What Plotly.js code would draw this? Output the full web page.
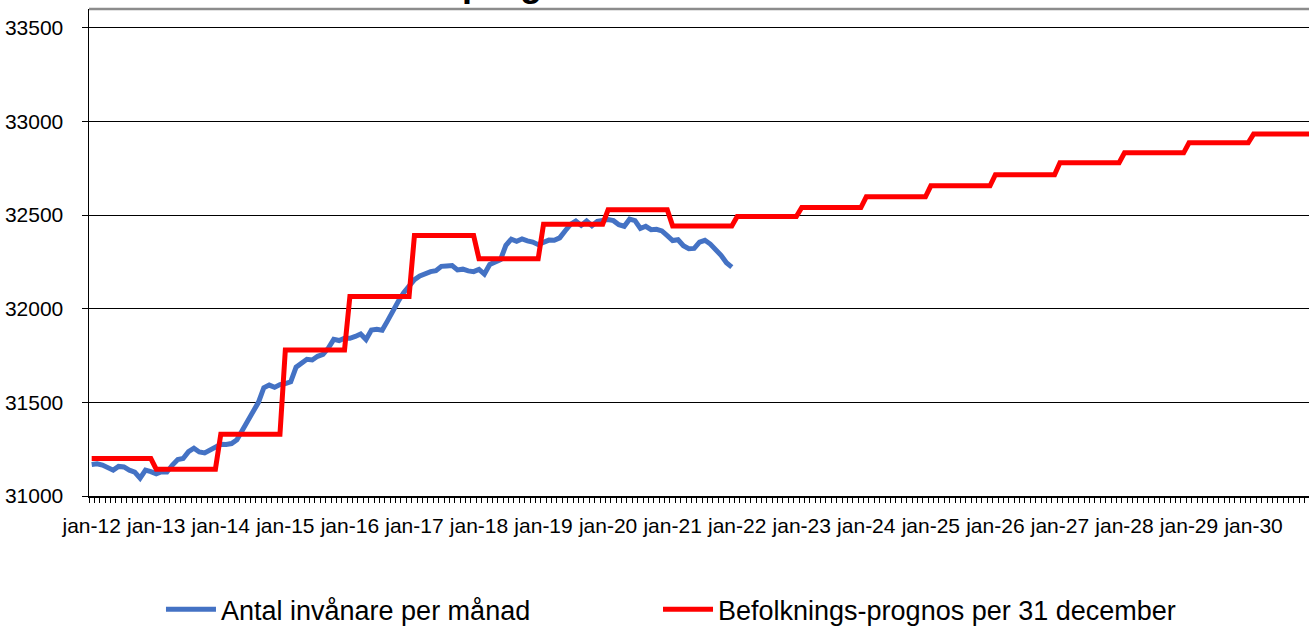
<!DOCTYPE html>
<html>
<head>
<meta charset="utf-8">
<script src="https://cdn.plot.ly/plotly-3.0.1.min.js"></script>
<style>
  html, body { margin: 0; padding: 0; background: #ffffff; }
  #chart { width: 1309px; height: 626px; }
</style>
</head>
<body>
<div id="chart"></div>
<script>
// ---- Data ----
const monthNames = ['jan','feb','mar','apr','maj','jun','jul','aug','sep','okt','nov','dec'];
const years = [2012,2013,2014,2015,2016,2017,2018,2019,2020,2021,2022,2023,2024,2025,2026,2027,2028,2029,2030];

// Befolknings-prognos per 31 december (one value per year)
const prognosValues = [31200,31143,31330,31780,32065,32391,32266,32451,32528,32442,
                       32492,32540,32597,32656,32715,32779,32832,32886,32932];

// Antal invånare per månad, jan-12 .. dec-21
const invanare = [
  31168,31172,31165,31150,31138,31158,31155,31138,31128,31095,31138,31130, // 2012
  31118,31130,31128,31165,31195,31200,31237,31255,31235,31230,31245,31265, // 2013
  31276,31275,31280,31300,31350,31395,31445,31500,31578,31592,31580,31595, // 2014
  31600,31610,31688,31712,31730,31726,31746,31756,31790,31836,31830,31842, // 2015
  31842,31852,31865,31835,31886,31890,31885,31935,31990,32040,32085,32125, // 2016
  32155,32175,32190,32198,32203,32226,32228,32230,32207,32211,32202,32198, // 2017
  32210,32185,32236,32252,32262,32338,32371,32360,32372,32362,32356,32342, // 2018
  32355,32366,32365,32378,32415,32450,32468,32445,32468,32443,32466,32472, // 2019
  32476,32470,32448,32440,32478,32470,32428,32440,32422,32424,32415,32390, // 2020
  32364,32368,32336,32320,32322,32355,32365,32345,32315,32285,32245,32222  // 2021
];

const yTicks = [31000,31500,32000,32500,33000,33500];
const yTickText = ['31000','31500','32000','32500','33000','33500'];

// ---- Build month categories ----
const months = [];
years.forEach(y => monthNames.forEach(m => months.push(m + '-' + String(y).slice(2))));
const monthIdx = months.map((_, i) => i);

// prognosis: each yearly value held through its 12 months
const prognosMonthly = [];
prognosValues.forEach(v => { for (let k = 0; k < 12; k++) prognosMonthly.push(v); });

const janIdx = monthIdx.filter(i => months[i].startsWith('jan'));
const janText = janIdx.map(i => months[i]);
const boundaries = monthIdx.map(i => i - 0.5);

const FONT = 'Liberation Sans, Arial, sans-serif';

const traces = [
  {
    type: 'scatter', mode: 'lines', name: 'Antal invånare per månad',
    x: monthIdx.slice(0, invanare.length), y: invanare,
    line: { color: '#4472C4', width: 5 },
    legend: 'legend'
  },
  {
    type: 'scatter', mode: 'lines', name: 'Befolknings-prognos per 31 december',
    x: monthIdx, y: prognosMonthly,
    line: { color: '#FF0000', width: 5 },
    legend: 'legend2'
  }
];

const legendCommon = {
  orientation: 'h', xanchor: 'left',
  yref: 'container', y: 0.026, yanchor: 'middle',
  itemwidth: 50,
  font: { family: FONT, size: 27, color: '#000000' },
  bgcolor: 'rgba(0,0,0,0)'
};

const layout = {
  width: 1309, height: 626,
  margin: { l: 89, r: 0, t: 9, b: 130 },
  paper_bgcolor: '#ffffff', plot_bgcolor: '#ffffff',
  font: { family: FONT, color: '#000000' },
  showlegend: true,
  hovermode: false,
  xaxis: {
    range: [-0.5, 226.3],
    showgrid: false, zeroline: false,
    showline: true, linecolor: '#000000', linewidth: 1.5,
    tickmode: 'array', tickvals: janIdx, ticktext: janText,
    ticks: '', ticklabelstandoff: 10,
    tickfont: { family: FONT, size: 21, color: '#000000' },
    minor: { tickmode: 'array', tickvals: boundaries, ticks: 'outside', ticklen: 5, tickwidth: 1, tickcolor: '#000000', showgrid: false }
  },
  yaxis: {
    range: [31000, 33600],
    tickmode: 'array', tickvals: yTicks, ticktext: yTickText,
    ticks: 'outside', ticklen: 6, tickcolor: '#000000', tickwidth: 1,
    showgrid: true, gridcolor: '#000000', gridwidth: 1,
    zeroline: false,
    showline: true, linecolor: '#000000', linewidth: 1.5,
    ticklabelstandoff: 14,
    tickfont: { family: FONT, size: 21, color: '#000000' }
  },
  legend: Object.assign({}, legendCommon, { x: 0.0590 }),
  legend2: Object.assign({}, legendCommon, { x: 0.4664 }),
  shapes: [
    { type: 'line', xref: 'paper', yref: 'paper', x0: 0, x1: 1, y0: 1, y1: 1,
      line: { color: '#8c8c8c', width: 2.5 } }
  ],
  annotations: [
    { text: '<b>Antal invånare och prognos</b>', xref: 'paper', yref: 'paper',
      x: 0.032, xanchor: 'left', y: 1, yanchor: 'bottom', yshift: 3,
      showarrow: false, font: { family: FONT, size: 36, color: '#000000' } }
  ]
};

Plotly.newPlot('chart', traces, layout, { displayModeBar: false, staticPlot: true });
</script>
</body>
</html>
